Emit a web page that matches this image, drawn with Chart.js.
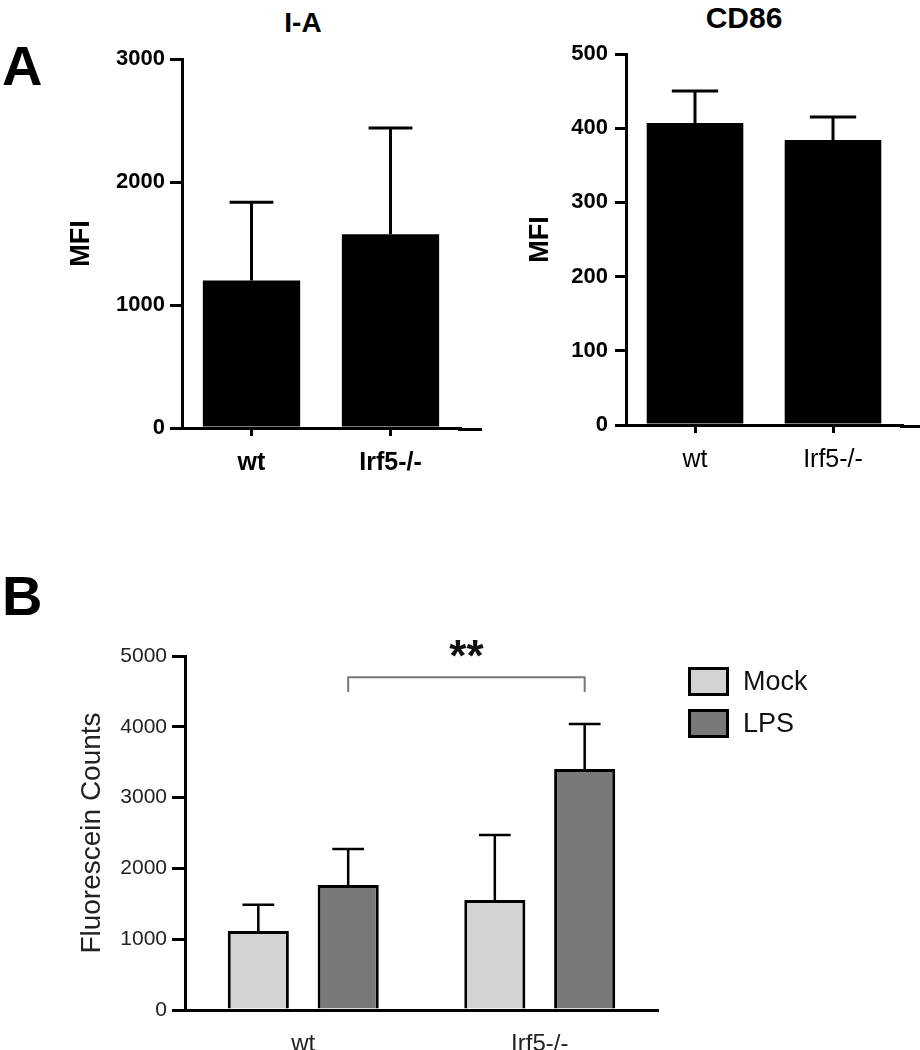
<!DOCTYPE html>
<html>
<head>
<meta charset="utf-8">
<script src="https://cdn.jsdelivr.net/npm/chart.js@4"></script>
<style>
  body { margin: 0; background: #fff; font-family: "Liberation Sans", Arial, sans-serif; }
  #page { position: relative; width: 920px; height: 1050px; overflow: hidden; }
  canvas { position: absolute; }
  .txt { position: absolute; line-height: 1; color: #000; white-space: nowrap; }
  .panel { font-size: 56px; font-weight: bold; }
  .title { font-weight: bold; text-align: center; width: 200px; }
  #legend { position: absolute; left: 688px; top: 667px; }
  .item { display: flex; align-items: center; height: 29px; margin-bottom: 13px; font-size: 27px; color: #111; }
  .swatch { width: 41px; height: 29px; border: 3px solid #000; box-sizing: border-box; margin-right: 14px; }
</style>
</head>
<body>
<div id="page">
  <div class="txt panel" style="left:2px; top:38px;">A</div>
  <div class="txt panel" style="left:2px; top:568px;">B</div>
  <div class="txt title" style="left:203px; top:9px; font-size:28px;">I-A</div>
  <div class="txt title" style="left:644px; top:3px; font-size:30px;">CD86</div>
  <canvas id="iaChart" width="490" height="500" style="left:0; top:0;"></canvas>
  <canvas id="cdChart" width="460" height="500" style="left:460px; top:0;"></canvas>
  <canvas id="fluoChart" width="920" height="490" style="left:0; top:560px;"></canvas>
  <div id="legend"></div>
</div>
<script>
const groups = ['wt', 'Irf5-/-'];

const iaMean = [1200, 1575];
const iaSem = [635, 865];
const iaTicks = [0, 1000, 2000, 3000];

const cd86Mean = [407, 384];
const cd86Sem = [43, 31];
const cd86Ticks = [0, 100, 200, 300, 400, 500];

const seriesNames = ['Mock', 'LPS'];
const mockMean = [1115, 1555];
const mockSem = [370, 915];
const lpsMean = [1765, 3405];
const lpsSem = [510, 635];
const fluoTicks = [0, 1000, 2000, 3000, 4000, 5000];

const sigStars = '**';
const sigLevel = 4700;
const sigDrop = 210;

const FONT = '"Liberation Sans", Arial, sans-serif';
Chart.defaults.font.family = FONT;
Chart.defaults.color = '#000';

// error bars (upper only), drawn from each bar's top
const errorBars = {
    id: 'errorBars',
    afterDatasetsDraw(chart, args, opts) {
        const ctx = chart.ctx;
        const y = chart.scales.y;
        chart.data.datasets.forEach((ds, di) => {
            chart.getDatasetMeta(di).data.forEach((bar, i) => {
                const top = y.getPixelForValue(ds.data[i] + ds.errors[i]);
                const half = bar.width * opts.cap / 2;
                ctx.save();
                ctx.strokeStyle = '#000';
                ctx.lineWidth = opts.width;
                ctx.beginPath();
                ctx.moveTo(bar.x, bar.y);
                ctx.lineTo(bar.x, top);
                ctx.moveTo(bar.x - half, top);
                ctx.lineTo(bar.x + half, top);
                ctx.stroke();
                ctx.restore();
            });
        });
    }
};

// x axis line runs a bit past the last category, like the original
const axisExtend = {
    id: 'axisExtend',
    afterDraw(chart, args, opts) {
        if (!opts.px) return;
        const ctx = chart.ctx;
        const area = chart.chartArea;
        ctx.save();
        ctx.strokeStyle = '#000';
        ctx.lineWidth = opts.width;
        ctx.beginPath();
        ctx.moveTo(area.right - 2, area.bottom + opts.width / 2);
        ctx.lineTo(area.right + opts.px, area.bottom + opts.width / 2);
        ctx.stroke();
        ctx.restore();
    }
};

// significance bracket between the two LPS bars
const sigBracket = {
    id: 'sigBracket',
    afterDraw(chart) {
        const ctx = chart.ctx;
        const y = chart.scales.y;
        const lps = chart.getDatasetMeta(1).data;
        const x1 = lps[0].x, x2 = lps[1].x;
        const yTop = y.getPixelForValue(sigLevel);
        const yEnd = y.getPixelForValue(sigLevel - sigDrop);
        ctx.save();
        ctx.strokeStyle = '#777';
        ctx.lineWidth = 2;
        ctx.beginPath();
        ctx.moveTo(x1, yEnd);
        ctx.lineTo(x1, yTop);
        ctx.lineTo(x2, yTop);
        ctx.lineTo(x2, yEnd);
        ctx.stroke();
        ctx.fillStyle = '#111';
        ctx.font = 'bold 44px ' + FONT;
        ctx.textAlign = 'center';
        ctx.textBaseline = 'alphabetic';
        ctx.fillText(sigStars, (x1 + x2) / 2, yTop - 6);
        ctx.restore();
    }
};

const plain = v => String(v);

function topChart(id, means, sems, ticks, o) {
    return new Chart(document.getElementById(id), {
        type: 'bar',
        data: {
            labels: groups,
            datasets: [{
                data: means,
                errors: sems,
                backgroundColor: '#000',
                borderWidth: 0,
                barPercentage: 0.7,
                categoryPercentage: 1
            }]
        },
        options: {
            responsive: false,
            animation: false,
            layout: { padding: { top: o.top, right: o.right, left: 0, bottom: 0 } },
            plugins: {
                legend: { display: false },
                tooltip: { enabled: false },
                errorBars: { cap: o.cap, width: 3 },
                axisExtend: { px: o.extend, width: 3 }
            },
            scales: {
                x: {
                    afterFit: s => { s.height = o.xHeight; },
                    border: { display: true, color: '#000', width: 3 },
                    grid: { display: true, drawOnChartArea: false, offset: false, tickLength: 8, color: '#000', lineWidth: 3 },
                    ticks: { padding: 12, color: '#000', font: { size: 25, weight: o.xBold ? 'bold' : 'normal' } }
                },
                y: {
                    min: 0,
                    max: ticks[ticks.length - 1],
                    afterBuildTicks: s => { s.ticks = ticks.map(v => ({ value: v })); },
                    afterFit: s => { s.width = o.yWidth; },
                    border: { display: true, color: '#000', width: 3 },
                    grid: { display: true, drawOnChartArea: false, tickLength: o.tickLen, color: '#000', lineWidth: 3 },
                    ticks: { padding: o.tickPad, color: '#000', font: { size: 22, weight: 'bold' }, callback: plain },
                    title: { display: true, text: 'MFI', color: '#000', font: { size: 27, weight: 'bold' }, padding: { top: o.titlePad, bottom: 0 } }
                }
            }
        },
        plugins: [errorBars, axisExtend]
    });
}

topChart('iaChart', iaMean, iaSem, iaTicks, {
    top: 59, right: 30, xHeight: 72, yWidth: 182, cap: 0.45, extend: 22,
    tickLen: 12, tickPad: 5, titlePad: 65, xBold: true
});

topChart('cdChart', cd86Mean, cd86Sem, cd86Ticks, {
    top: 54, right: 18, xHeight: 75, yWidth: 166, cap: 0.48, extend: 18,
    tickLen: 11, tickPad: 7, titlePad: 64, xBold: false
});

const fillColors = ['#d3d3d3', '#797979'];

new Chart(document.getElementById('fluoChart'), {
    type: 'bar',
    data: {
        labels: groups,
        datasets: [
            { label: seriesNames[0], data: mockMean, errors: mockSem, backgroundColor: fillColors[0] },
            { label: seriesNames[1], data: lpsMean, errors: lpsSem, backgroundColor: fillColors[1] }
        ].map(d => Object.assign(d, {
            borderColor: '#000', borderWidth: 3, borderSkipped: 'bottom',
            barPercentage: 0.68, categoryPercentage: 0.76
        }))
    },
    options: {
        responsive: false,
        animation: false,
        layout: { padding: { top: 96, right: 262, left: 0, bottom: 0 } },
        plugins: {
            legend: { display: false },
            tooltip: { enabled: false },
            errorBars: { cap: 0.52, width: 2.5 }
        },
        scales: {
            x: {
                afterFit: s => { s.height = 40; },
                border: { display: true, color: '#000', width: 3 },
                grid: { display: false },
                ticks: { padding: 12, color: '#222', font: { size: 24 } }
            },
            y: {
                min: 0,
                max: fluoTicks[fluoTicks.length - 1],
                afterBuildTicks: s => { s.ticks = fluoTicks.map(v => ({ value: v })); },
                afterFit: s => { s.width = 185; },
                border: { display: true, color: '#000', width: 3 },
                grid: { display: true, drawOnChartArea: false, tickLength: 13, color: '#000', lineWidth: 3 },
                ticks: { padding: 5, color: '#222', font: { size: 21 }, callback: plain },
                title: { display: true, text: 'Fluorescein Counts', color: '#222', font: { size: 28 }, padding: { top: 75, bottom: 0 } }
            }
        }
    },
    plugins: [errorBars, sigBracket]
});

// legend built from the series names and fills
const legend = document.getElementById('legend');
seriesNames.forEach((name, i) => {
    const item = document.createElement('div');
    item.className = 'item';
    item.innerHTML = `<span class="swatch" style="background:${fillColors[i]}"></span><span>${name}</span>`;
    legend.appendChild(item);
});
</script>
</body>
</html>
